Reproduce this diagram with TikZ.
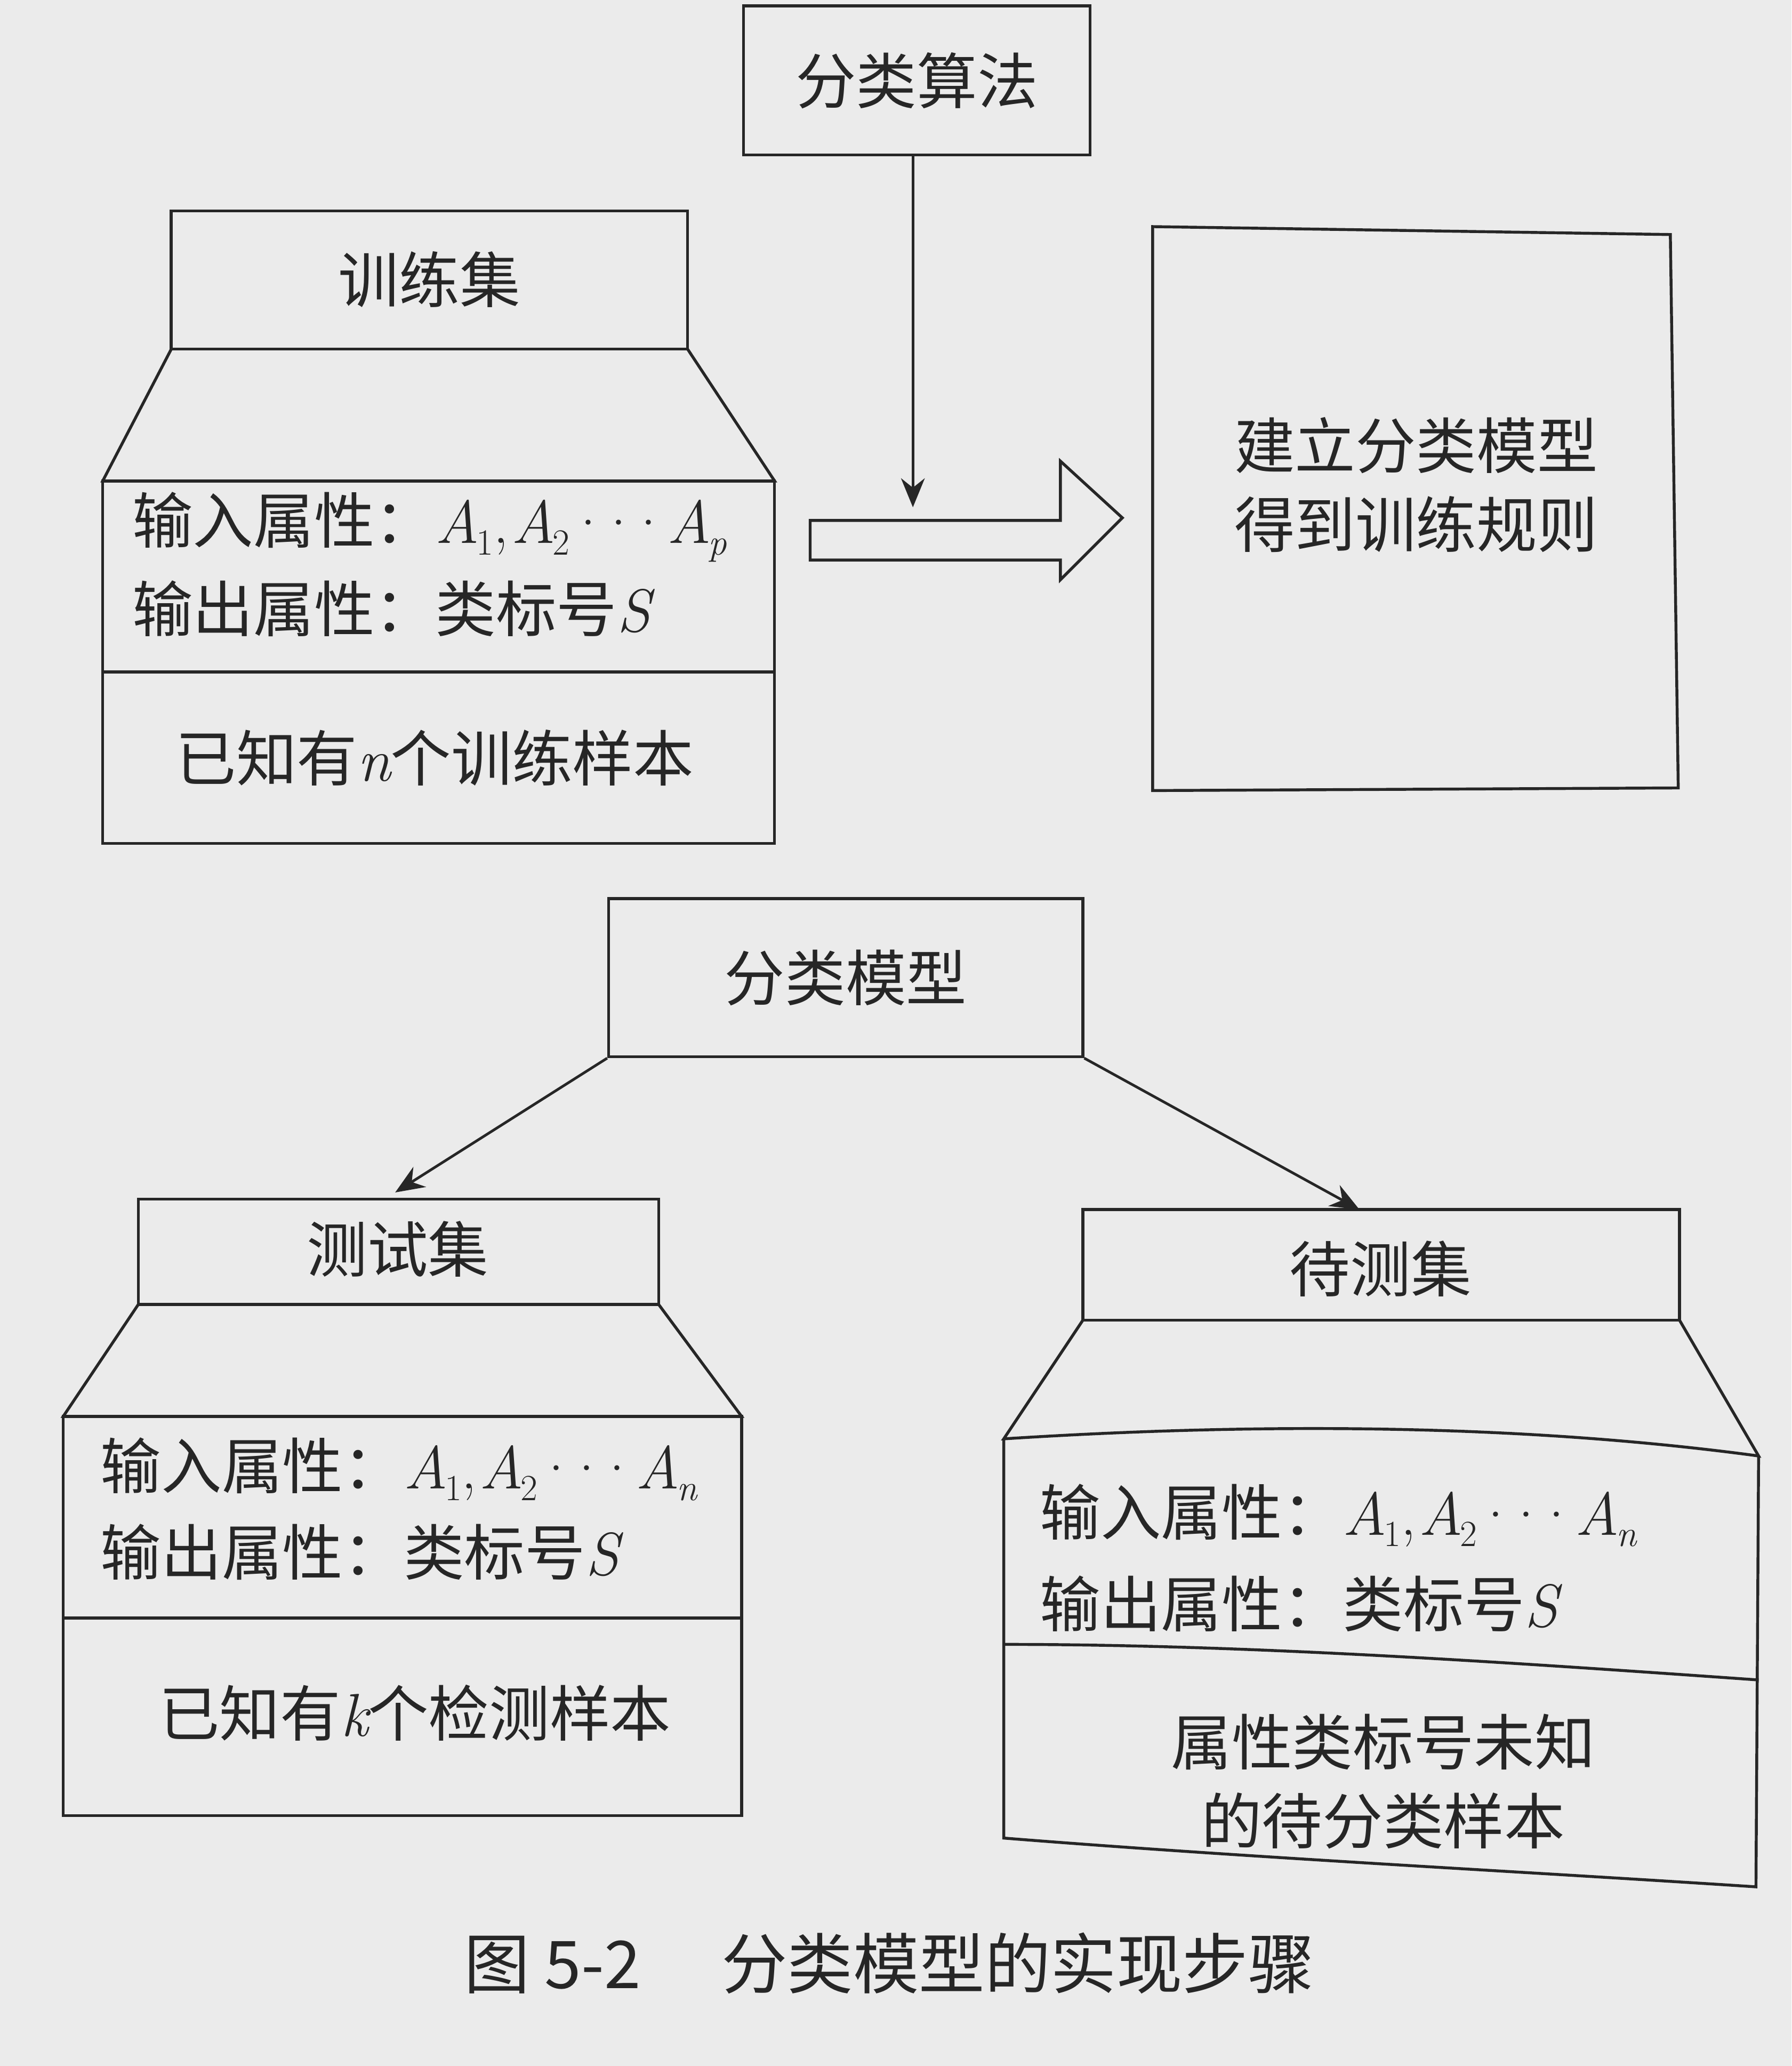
\documentclass[tikz,border=0pt]{standalone}
\usepackage{fontspec}
\usetikzlibrary{arrows.meta}
\newfontfamily\cjk{Noto Sans CJK SC}
\newcommand{\vx}[2]{{\rmfamily\itshape #1}\kern-0.05em\raisebox{-0.35ex}{\rmfamily\fontsize{28}{30}\selectfont #2}}
\newcommand{\dts}{{\rmfamily\kern-0.05em\textperiodcentered\kern-0.22em\textperiodcentered\kern-0.22em\textperiodcentered\kern-0.05em}}
\newcommand{\mi}[1]{{\rmfamily\itshape #1}}
\newcommand{\cm}{{\rmfamily,\kern0.05em}}
\begin{document}
\begin{tikzpicture}[x=1pt,y=-1pt,line width=2.2pt,draw=black!85,
  box/.style={draw,line width=2.2pt},
  txt/.style={font=\cjk\fontsize{46}{60}\selectfont,text=black!85},
  arr/.style={-{Stealth[length=22pt,width=18pt]},line width=2pt}]
\fill[black!8] (0,0) rectangle (1360,1568);
\useasboundingbox (0,0) rectangle (1360,1568);
% top
\node[box,txt,minimum width=263pt,minimum height=113pt] (alg) at (696,61) {分类算法};
\coordinate (ah) at (693,385);
\draw[arr] (alg.south -| ah) -- (ah);
\draw[line width=2.2pt] (615,395) -- (805,395) -- (805,350) -- (852,393) -- (805,440) -- (805,425) -- (615,425) -- cycle;
\draw[box] (875,172) -- (1268,178) -- (1274,598) -- (875,600) -- cycle;
\node[txt,align=left] (rule) at (1075,368) {建立分类模型\\得到训练规则};
% training
\draw[box] (130,265) rectangle (522,160);
\node[txt] (tr) at (326,212) {训练集};
\draw[box] (130,265) -- (78,365) -- (588,365) -- (522,265);
\draw[box] (78,365) rectangle (588,640);
\draw[box] (78,510) -- (588,510);
\node[txt,anchor=west] (tr1) at (96,400) {输入属性：\vx{A}{1}\cm\vx{A}{2}\dts\vx{A}{\itshape p}};
\node[txt,anchor=west] (tr2) at (96,462) {输出属性：类标号\mi{S}};
\node[txt] (tr3) at (330,575) {已知有\mi{n}个训练样本};
% model
\node[box,txt,minimum width=360pt,minimum height=120pt] (mod) at (642,742) {分类模型};
\coordinate (t1) at (300,905); \coordinate (t2) at (1032,918);
\draw[arr] (mod.south west) -- (t1);
\draw[arr] (mod.south east) -- (t2);
% test set
\draw[box] (105,990) rectangle (500,910);
\node[txt] (ts) at (302,948) {测试集};
\draw[box] (105,990) -- (48,1075) -- (563,1075) -- (500,990);
\draw[box] (48,1075) rectangle (563,1378);
\draw[box] (48,1228) -- (563,1228);
\node[txt,anchor=west] (ts1) at (72,1115) {输入属性：\vx{A}{1}\cm\vx{A}{2}\dts\vx{A}{\itshape n}};
\node[txt,anchor=west] (ts2) at (72,1178) {输出属性：类标号\mi{S}};
\node[txt] (ts3) at (315,1300) {已知有\mi{k}个检测样本};
% pending
\draw[box] (822,1002) rectangle (1275,918);
\node[txt] (pd) at (1048,963) {待测集};
\draw[box] (822,1002) -- (762,1092) .. controls (950,1080) and (1150,1080) .. (1335,1105) -- (1275,1002);
\draw[box] (762,1092) -- (762,1395) .. controls (950,1410) and (1150,1420) .. (1333,1432) -- (1335,1105);
\draw[box] (762,1248) .. controls (950,1248) and (1150,1262) .. (1335,1275);
\node[txt,anchor=west] (pd1) at (785,1150) {输入属性：\vx{A}{1}\cm\vx{A}{2}\dts\vx{A}{\itshape n}};
\node[txt,anchor=west] (pd2) at (785,1217) {输出属性：类标号\mi{S}};
\node[txt,align=center] (pd3) at (1050,1352) {属性类标号未知\\的待分类样本};
% caption
\node[txt,font=\cjk\fontsize{50}{60}\selectfont] (cap) at (675,1490) {图 5-2\quad\ 分类模型的实现步骤};
\end{tikzpicture}
\end{document}
